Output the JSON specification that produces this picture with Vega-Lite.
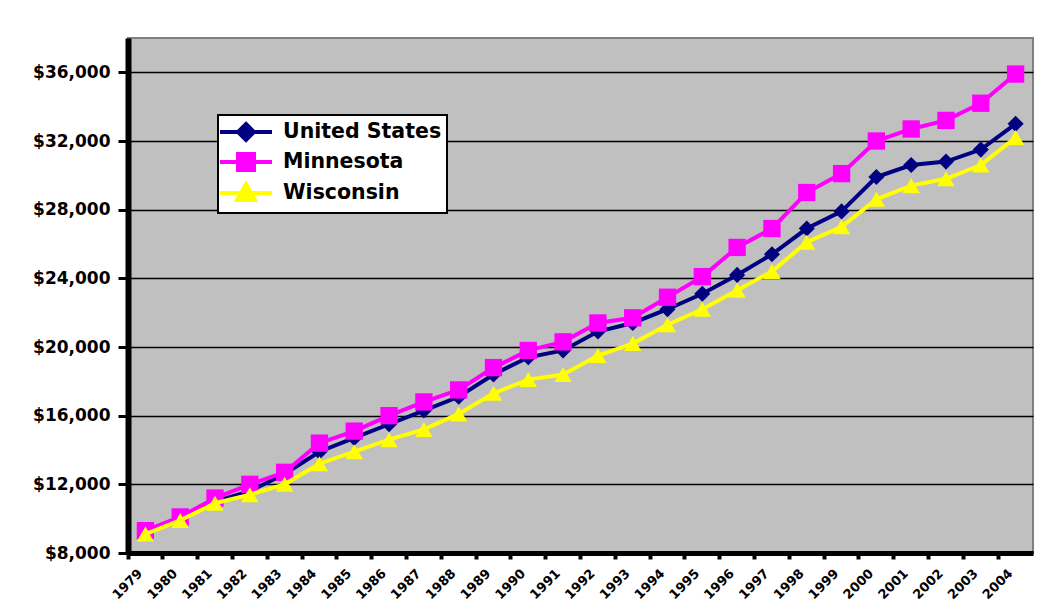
{
  "$schema": "https://vega.github.io/schema/vega-lite/v6.json",
  "width": 905,
  "height": 515,
  "autosize": {"type": "none"},
  "padding": {"left": 128, "top": 38, "right": 5, "bottom": 62},
  "background": "white",
  "config": {
    "view": {"fill": "#C0C0C0", "stroke": "#808080", "strokeWidth": 2},
    "axis": {"labelColor": "black", "labelFont": "DejaVu Sans", "labelFontWeight": "bold"}
  },
  "data": {
    "values": [
      {"year": "1979", "series": "United States", "income": 9300},
      {"year": "1980", "series": "United States", "income": 10000},
      {"year": "1981", "series": "United States", "income": 11000},
      {"year": "1982", "series": "United States", "income": 11600},
      {"year": "1983", "series": "United States", "income": 12600},
      {"year": "1984", "series": "United States", "income": 13900},
      {"year": "1985", "series": "United States", "income": 14700},
      {"year": "1986", "series": "United States", "income": 15500},
      {"year": "1987", "series": "United States", "income": 16300},
      {"year": "1988", "series": "United States", "income": 17100},
      {"year": "1989", "series": "United States", "income": 18400},
      {"year": "1990", "series": "United States", "income": 19400},
      {"year": "1991", "series": "United States", "income": 19800},
      {"year": "1992", "series": "United States", "income": 20900},
      {"year": "1993", "series": "United States", "income": 21400},
      {"year": "1994", "series": "United States", "income": 22200},
      {"year": "1995", "series": "United States", "income": 23100},
      {"year": "1996", "series": "United States", "income": 24200},
      {"year": "1997", "series": "United States", "income": 25400},
      {"year": "1998", "series": "United States", "income": 26900},
      {"year": "1999", "series": "United States", "income": 27900},
      {"year": "2000", "series": "United States", "income": 29900},
      {"year": "2001", "series": "United States", "income": 30600},
      {"year": "2002", "series": "United States", "income": 30800},
      {"year": "2003", "series": "United States", "income": 31500},
      {"year": "2004", "series": "United States", "income": 33000},
      {"year": "1979", "series": "Minnesota", "income": 9300},
      {"year": "1980", "series": "Minnesota", "income": 10100},
      {"year": "1981", "series": "Minnesota", "income": 11200},
      {"year": "1982", "series": "Minnesota", "income": 12000},
      {"year": "1983", "series": "Minnesota", "income": 12700},
      {"year": "1984", "series": "Minnesota", "income": 14400},
      {"year": "1985", "series": "Minnesota", "income": 15100},
      {"year": "1986", "series": "Minnesota", "income": 16000},
      {"year": "1987", "series": "Minnesota", "income": 16800},
      {"year": "1988", "series": "Minnesota", "income": 17500},
      {"year": "1989", "series": "Minnesota", "income": 18800},
      {"year": "1990", "series": "Minnesota", "income": 19800},
      {"year": "1991", "series": "Minnesota", "income": 20300},
      {"year": "1992", "series": "Minnesota", "income": 21400},
      {"year": "1993", "series": "Minnesota", "income": 21700},
      {"year": "1994", "series": "Minnesota", "income": 22900},
      {"year": "1995", "series": "Minnesota", "income": 24100},
      {"year": "1996", "series": "Minnesota", "income": 25800},
      {"year": "1997", "series": "Minnesota", "income": 26900},
      {"year": "1998", "series": "Minnesota", "income": 29000},
      {"year": "1999", "series": "Minnesota", "income": 30100},
      {"year": "2000", "series": "Minnesota", "income": 32000},
      {"year": "2001", "series": "Minnesota", "income": 32700},
      {"year": "2002", "series": "Minnesota", "income": 33200},
      {"year": "2003", "series": "Minnesota", "income": 34200},
      {"year": "2004", "series": "Minnesota", "income": 35900},
      {"year": "1979", "series": "Wisconsin", "income": 9100},
      {"year": "1980", "series": "Wisconsin", "income": 9900},
      {"year": "1981", "series": "Wisconsin", "income": 10900},
      {"year": "1982", "series": "Wisconsin", "income": 11400},
      {"year": "1983", "series": "Wisconsin", "income": 12000},
      {"year": "1984", "series": "Wisconsin", "income": 13200},
      {"year": "1985", "series": "Wisconsin", "income": 13900},
      {"year": "1986", "series": "Wisconsin", "income": 14600},
      {"year": "1987", "series": "Wisconsin", "income": 15200},
      {"year": "1988", "series": "Wisconsin", "income": 16100},
      {"year": "1989", "series": "Wisconsin", "income": 17300},
      {"year": "1990", "series": "Wisconsin", "income": 18100},
      {"year": "1991", "series": "Wisconsin", "income": 18400},
      {"year": "1992", "series": "Wisconsin", "income": 19500},
      {"year": "1993", "series": "Wisconsin", "income": 20200},
      {"year": "1994", "series": "Wisconsin", "income": 21300},
      {"year": "1995", "series": "Wisconsin", "income": 22200},
      {"year": "1996", "series": "Wisconsin", "income": 23300},
      {"year": "1997", "series": "Wisconsin", "income": 24400},
      {"year": "1998", "series": "Wisconsin", "income": 26100},
      {"year": "1999", "series": "Wisconsin", "income": 27000},
      {"year": "2000", "series": "Wisconsin", "income": 28600},
      {"year": "2001", "series": "Wisconsin", "income": 29400},
      {"year": "2002", "series": "Wisconsin", "income": 29800},
      {"year": "2003", "series": "Wisconsin", "income": 30600},
      {"year": "2004", "series": "Wisconsin", "income": 32200}
    ]
  },
  "encoding": {
    "x": {
      "field": "year",
      "type": "nominal",
      "sort": null,
      "scale": {"type": "band", "paddingInner": 0, "paddingOuter": 0},
      "axis": {
        "title": null,
        "bandPosition": 0,
        "labelAngle": 315,
        "labelAlign": "right",
        "labelBaseline": "middle",
        "labelOffset": -5,
        "labelPadding": 12,
        "labelFontSize": 13,
        "domainColor": "black",
        "domainWidth": 5,
        "tickColor": "black",
        "tickWidth": 4,
        "tickSize": 6,
        "grid": false
      }
    },
    "y": {
      "field": "income",
      "type": "quantitative",
      "scale": {"domain": [8000, 38000], "nice": false, "zero": false},
      "axis": {
        "title": null,
        "values": [8000, 12000, 16000, 20000, 24000, 28000, 32000, 36000],
        "format": "$,.0f",
        "labelFontSize": 17,
        "labelPadding": 8,
        "domainColor": "black",
        "domainWidth": 6,
        "tickColor": "black",
        "tickWidth": 3,
        "tickSize": 10,
        "grid": true,
        "gridColor": "black",
        "gridWidth": 1.5
      }
    },
    "color": {
      "field": "series",
      "type": "nominal",
      "sort": null,
      "scale": {"domain": ["United States", "Minnesota", "Wisconsin"], "range": ["#000080", "#FF00FF", "#FFFF00"]},
      "legend": {
        "title": null,
        "orient": "none",
        "legendX": 90,
        "legendY": 77,
        "fillColor": "white",
        "strokeColor": "black",
        "padding": 5,
        "labelFont": "DejaVu Sans",
        "labelFontSize": 20.5,
        "labelFontWeight": "bold",
        "labelColor": "black",
        "symbolType": "M-1.5,0H3.7M1.1,-0.8L1.9,0L1.1,0.8L0.3,0Z",
        "symbolSize": 400,
        "symbolStrokeWidth": 4,
        "labelOffset": 36,
        "rowPadding": -2,
        "encode": {
          "legend": {"update": {"strokeWidth": {"value": 2}}},
          "symbols": {
            "update": {
              "shape": {"signal": "datum.value === 'United States' ? 'M-1.5,0H3.7M1.1,-0.8L1.9,0L1.1,0.8L0.3,0Z' : datum.value === 'Minnesota' ? 'M-1.5,0H3.7M0.3,-0.8H1.9V0.8H0.3Z' : 'M-1.5,0H3.7M1.1,-0.9L2,0.7H0.2Z'"},
              "stroke": {"scale": "color", "field": "value"},
              "fill": {"scale": "color", "field": "value"},
              "strokeWidth": {"value": 4},
              "opacity": {"value": 1}
            }
          }
        }
      }
    }
  },
  "layer": [
    {
      "transform": [{"filter": "datum.series === 'United States'"}],
      "mark": {"type": "line", "strokeWidth": 4},
      "encoding": {}
    },
    {
      "transform": [{"filter": "datum.series === 'United States'"}],
      "mark": {"type": "point", "filled": true, "opacity": 1, "size": 260, "shape": "diamond"}
    },
    {
      "transform": [{"filter": "datum.series === 'Minnesota'"}],
      "mark": {"type": "line", "strokeWidth": 4},
      "encoding": {}
    },
    {
      "transform": [{"filter": "datum.series === 'Minnesota'"}],
      "mark": {"type": "point", "filled": true, "opacity": 1, "size": 300, "shape": "square"}
    },
    {
      "transform": [{"filter": "datum.series === 'Wisconsin'"}],
      "mark": {"type": "line", "strokeWidth": 4},
      "encoding": {}
    },
    {
      "transform": [{"filter": "datum.series === 'Wisconsin'"}],
      "mark": {"type": "point", "filled": true, "opacity": 1, "size": 300, "shape": "triangle-up"}
    }
  ]
}
